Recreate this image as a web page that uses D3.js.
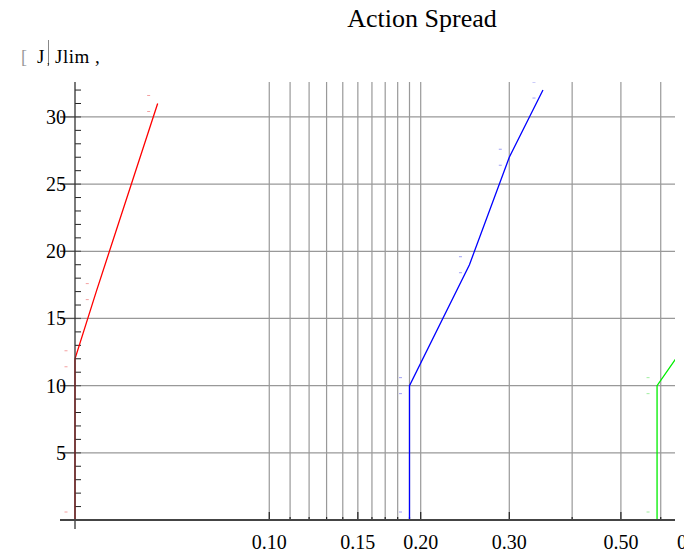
<!DOCTYPE html>
<html>
<head>
<meta charset="utf-8">
<script src="https://cdn.jsdelivr.net/npm/d3@7"></script>
<style>
  body { margin: 0; background: #fff; }
  text { font-family: "Liberation Serif", "Times New Roman", serif; }
</style>
</head>
<body>
<div id="chart"></div>
<script>
// chart data
const redJ = [0.0411, 0.0411, 0.0453, 0.060];
const redY = [0, 12, 17, 31];
const blueJ = [0.19, 0.19, 0.25, 0.30, 0.35];
const blueY = [0, 10, 19, 27, 32];
const greenJ = [0.59, 0.59, 0.70];
const greenY = [0, 10, 14];

const xGrid = [0.10, 0.11, 0.12, 0.13, 0.14, 0.15, 0.16, 0.17, 0.18, 0.19, 0.20, 0.30, 0.40, 0.50, 0.60];
const xLabels = [0.10, 0.15, 0.20, 0.30, 0.50, 0.70];
const xMajorTicks = [0.10, 0.15, 0.20, 0.30, 0.50];
const yMajor = [5, 10, 15, 20, 25, 30];
const yMinor = d3.range(1, 33);

// set the dimensions
let width = 684, height = 553;
let plot = {left: 75, right: 675, top: 82, bottom: 520};

const svg = d3.select("#chart")
              .append("svg")
                .attr("width", width)
                .attr("height", height);

let x = d3.scaleLog()
          .domain([0.0411, 0.6405])
          .range([plot.left, plot.right]);

let y = d3.scaleLinear()
          .domain([0, 32.6])
          .range([plot.bottom, plot.top]);

// title
svg.append("text")
    .attr("x", 422)
    .attr("y", 27)
    .attr("text-anchor", "middle")
    .style("font-size", "26px")
    .text("Action Spread");

// legend text in the top left
svg.append("text")
    .attr("x", 21)
    .attr("y", 63)
    .style("font-size", "18px")
    .style("fill", "#999")
    .text("[");
svg.append("text")
    .attr("x", 37)
    .attr("y", 63)
    .style("font-size", "19px")
    .text("J");
svg.append("line")
    .attr("x1", 48.5).attr("x2", 48.5)
    .attr("y1", 40).attr("y2", 66)
    .attr("stroke", "#888")
    .attr("stroke-width", 1);
svg.append("text")
    .attr("x", 47)
    .attr("y", 64)
    .style("font-size", "10px")
    .text(",");
svg.append("text")
    .attr("x", 55)
    .attr("y", 63)
    .style("font-size", "19px")
    .style("letter-spacing", "0.5px")
    .text("Jlim ,");

// vertical grid lines
svg.append("g")
    .selectAll("line")
    .data(xGrid)
    .enter()
    .append("line")
      .attr("x1", d => x(d)).attr("x2", d => x(d))
      .attr("y1", plot.top).attr("y2", plot.bottom)
      .attr("stroke", "#999")
      .attr("stroke-width", 1.2);

// horizontal grid lines
svg.append("g")
    .selectAll("line")
    .data(yMajor)
    .enter()
    .append("line")
      .attr("x1", 60).attr("x2", plot.right)
      .attr("y1", d => y(d)).attr("y2", d => y(d))
      .attr("stroke", "#999")
      .attr("stroke-width", 1.2);

// y minor ticks
svg.append("g")
    .selectAll("line")
    .data(yMinor.filter(d => d % 5 != 0))
    .enter()
    .append("line")
      .attr("x1", plot.left).attr("x2", plot.left + 6)
      .attr("y1", d => y(d)).attr("y2", d => y(d))
      .attr("stroke", "#222")
      .attr("stroke-width", 1);

// y major ticks
svg.append("g")
    .selectAll("line")
    .data(yMajor)
    .enter()
    .append("line")
      .attr("x1", 60).attr("x2", plot.left + 6)
      .attr("y1", d => y(d)).attr("y2", d => y(d))
      .attr("stroke", "#555")
      .attr("stroke-width", 1.2);

// y labels
svg.append("g")
    .selectAll("text")
    .data(yMajor)
    .enter()
    .append("text")
      .attr("x", 66)
      .attr("y", d => y(d) + 7)
      .attr("text-anchor", "end")
      .style("font-size", "20px")
      .text(d => d);

// x ticks
svg.append("g")
    .selectAll("line")
    .data(xGrid)
    .enter()
    .append("line")
      .attr("x1", d => x(d)).attr("x2", d => x(d))
      .attr("y1", d => xMajorTicks.includes(d) ? plot.bottom - 8 : plot.bottom - 3)
      .attr("y2", plot.bottom)
      .attr("stroke", "#222")
      .attr("stroke-width", 1.2);

// x labels
svg.append("g")
    .selectAll("text")
    .data(xLabels)
    .enter()
    .append("text")
      .attr("x", d => x(d))
      .attr("y", 549)
      .attr("text-anchor", "middle")
      .style("font-size", "20px")
      .text(d => d3.format(".2f")(d));

// the curves
const line = d3.line()
               .x(d => x(d[0]))
               .y(d => y(d[1]));

const series = [
  {j: redJ, v: redY, color: "#ff0000", light: "#f4a0a0"},
  {j: blueJ, v: blueY, color: "#0000ff", light: "#a0a0f4"},
  {j: greenJ, v: greenY, color: "#00ee00", light: "#a0eea0"}
];

svg.append("clipPath")
    .attr("id", "clip")
  .append("rect")
    .attr("x", 0).attr("y", plot.top)
    .attr("width", plot.right).attr("height", plot.bottom - plot.top + 1);

const curves = svg.append("g").attr("clip-path", "url(#clip)");

series.forEach(function(s) {
  let pts = s.j.map((d, i) => [d, s.v[i]]);

  // faint dashes beside each point
  let dashes = [];
  pts.forEach(function(p) {
    dashes.push({x: x(p[0]) - 9, y: y(p[1]) - 8});
    dashes.push({x: x(p[0]) - 9, y: y(p[1]) + 8});
  });
  curves.append("g")
      .selectAll("line")
      .data(dashes.filter(d => d.y < plot.bottom && d.x < plot.right))
      .enter()
      .append("line")
        .attr("x1", d => d.x - 1.5).attr("x2", d => d.x + 1.5)
        .attr("y1", d => d.y).attr("y2", d => d.y)
        .attr("stroke", s.light)
        .attr("stroke-width", 1);

  curves.append("path")
      .datum(pts)
      .attr("d", line)
      .attr("fill", "none")
      .attr("stroke", s.color)
      .attr("stroke-width", 1.3);
});

// axis lines drawn over the curves
svg.append("line")
    .attr("x1", plot.left).attr("x2", plot.left)
    .attr("y1", plot.top).attr("y2", plot.bottom + 9)
    .attr("stroke", "#333")
    .attr("stroke-opacity", 0.65)
    .attr("stroke-width", 2);

svg.append("line")
    .attr("x1", 60).attr("x2", plot.right)
    .attr("y1", plot.bottom).attr("y2", plot.bottom)
    .attr("stroke", "#444")
    .attr("stroke-width", 2);
</script>
</body>
</html>
